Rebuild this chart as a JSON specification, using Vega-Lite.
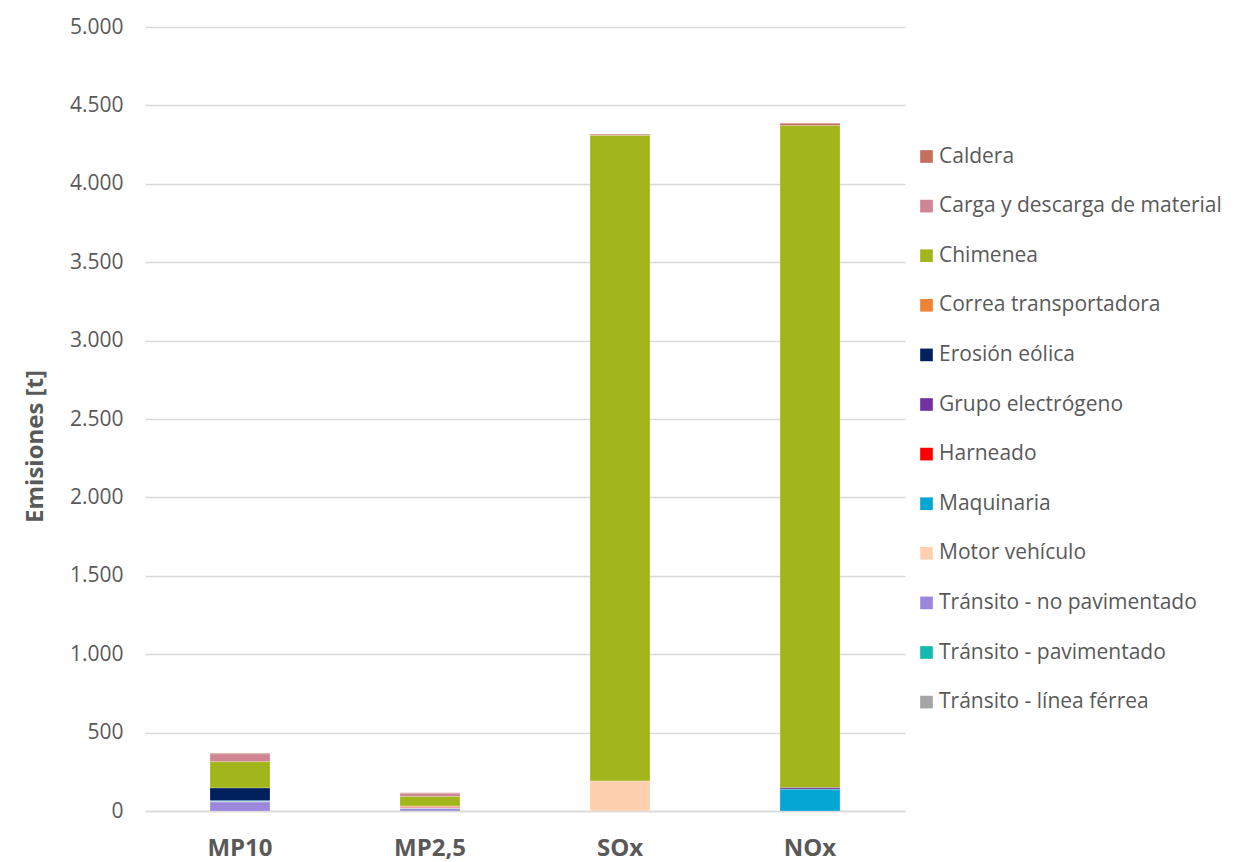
{
  "$schema": "https://vega.github.io/schema/vega-lite/v6.json",
  "autosize": {"type": "none"},
  "width": 760,
  "height": 784,
  "padding": {"left": 145, "top": 27, "right": 345, "bottom": 51},
  "background": "white",
  "config": {
    "locale": {"number": {"decimal": ",", "thousands": ".", "grouping": [3], "currency": ["$", ""]}},
    "font": "Open Sans",
    "view": {"stroke": null},
    "axis": {"labelColor": "#595959", "titleColor": "#595959", "gridColor": "#d9d9d9", "gridWidth": 1.3, "domainColor": "#d9d9d9", "domainWidth": 1.5, "ticks": false},
    "axisY": {"titleFontSize": 24, "titleFontWeight": "bold", "labelFontSize": 21}
  },
  "data": {
    "values": [
      {"contaminante": "MP10", "fuente": "Caldera", "emision": 5},
      {"contaminante": "MP10", "fuente": "Carga y descarga de material", "emision": 49},
      {"contaminante": "MP10", "fuente": "Chimenea", "emision": 168},
      {"contaminante": "MP10", "fuente": "Erosión eólica", "emision": 81},
      {"contaminante": "MP10", "fuente": "Maquinaria", "emision": 5},
      {"contaminante": "MP10", "fuente": "Tránsito - no pavimentado", "emision": 58},
      {"contaminante": "MP10", "fuente": "Tránsito - línea férrea", "emision": 2},
      {"contaminante": "MP2,5", "fuente": "Caldera", "emision": 4},
      {"contaminante": "MP2,5", "fuente": "Carga y descarga de material", "emision": 21},
      {"contaminante": "MP2,5", "fuente": "Chimenea", "emision": 61},
      {"contaminante": "MP2,5", "fuente": "Correa transportadora", "emision": 5},
      {"contaminante": "MP2,5", "fuente": "Grupo electrógeno", "emision": 4},
      {"contaminante": "MP2,5", "fuente": "Harneado", "emision": 3},
      {"contaminante": "MP2,5", "fuente": "Maquinaria", "emision": 2},
      {"contaminante": "MP2,5", "fuente": "Tránsito - no pavimentado", "emision": 15},
      {"contaminante": "MP2,5", "fuente": "Tránsito - línea férrea", "emision": 2},
      {"contaminante": "SOx", "fuente": "Caldera", "emision": 8},
      {"contaminante": "SOx", "fuente": "Chimenea", "emision": 4117},
      {"contaminante": "SOx", "fuente": "Motor vehículo", "emision": 191},
      {"contaminante": "NOx", "fuente": "Caldera", "emision": 15},
      {"contaminante": "NOx", "fuente": "Chimenea", "emision": 4223},
      {"contaminante": "NOx", "fuente": "Grupo electrógeno", "emision": 10},
      {"contaminante": "NOx", "fuente": "Maquinaria", "emision": 138}
    ]
  },
  "mark": {"type": "bar", "stroke": "white", "strokeWidth": 0.4, "strokeOpacity": 0.6},
  "encoding": {
    "x": {
      "field": "contaminante",
      "type": "nominal",
      "sort": ["MP10", "MP2,5", "SOx", "NOx"],
      "scale": {"paddingInner": 0.684, "paddingOuter": 0.342},
      "axis": {"title": null, "labelAngle": 0, "labelFontSize": 24, "labelFontWeight": "bold", "labelPadding": 25, "domain": true, "grid": false}
    },
    "y": {
      "field": "emision",
      "type": "quantitative",
      "aggregate": "sum",
      "stack": "zero",
      "scale": {"domain": [0, 5000], "nice": false},
      "axis": {"title": "Emisiones [t]", "titleFontSize": 24, "titleY": 419, "titlePadding": 22, "labelPadding": 22, "values": [0, 500, 1000, 1500, 2000, 2500, 3000, 3500, 4000, 4500, 5000], "format": ",d", "domain": false, "grid": true}
    },
    "color": {
      "field": "fuente",
      "type": "nominal",
      "scale": {
        "domain": ["Caldera", "Carga y descarga de material", "Chimenea", "Correa transportadora", "Erosión eólica", "Grupo electrógeno", "Harneado", "Maquinaria", "Motor vehículo", "Tránsito - no pavimentado", "Tránsito - pavimentado", "Tránsito - línea férrea"],
        "range": ["#C5705C", "#D08494", "#A2B51A", "#F08236", "#00215E", "#7330A0", "#FF0000", "#05A6D1", "#FFD0B0", "#9B87DC", "#12BBAD", "#A5A5A5"]
      },
      "legend": {
        "title": null,
        "orient": "none",
        "legendX": 771,
        "legendY": 119,
        "symbolType": "square",
        "symbolSize": 160,
        "symbolStrokeWidth": 0,
        "labelFontSize": 21,
        "labelColor": "#595959",
        "labelOffset": 2,
        "rowPadding": 27.6,
        "labelLimit": 400
      }
    }
  }
}
